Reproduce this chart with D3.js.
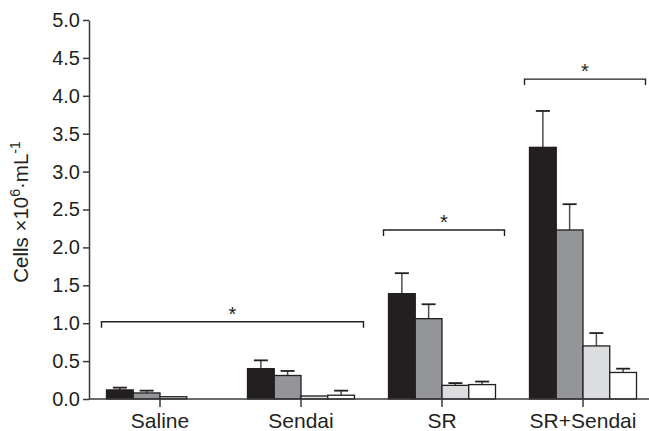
<!DOCTYPE html>
<html>
<head>
<meta charset="utf-8">
<script src="https://cdn.jsdelivr.net/npm/d3@7"></script>
<style>
  body { margin: 0; background: #fff; }
  svg text { font-family: "Liberation Sans", Arial, sans-serif; fill: #231f20; }
</style>
</head>
<body>
<svg id="chart" width="649" height="431"></svg>
<script>
// data
var groups = ["Saline", "Sendai", "SR", "SR+Sendai"];
var series = ["s1", "s2", "s3", "s4"];
var means = [
  [0.12, 0.08, 0.03, 0.00],
  [0.40, 0.31, 0.04, 0.05],
  [1.39, 1.06, 0.18, 0.19],
  [3.32, 2.23, 0.70, 0.35]
];
var upper = [
  [0.15, 0.11, null, null],
  [0.51, 0.37, null, 0.11],
  [1.66, 1.25, 0.21, 0.23],
  [3.80, 2.57, 0.87, 0.40]
];
var yTicks = [0, 0.5, 1, 1.5, 2, 2.5, 3, 3.5, 4, 4.5, 5];
var brackets = [
  {from: "Saline", to: "Sendai", value: 1.02},
  {from: "SR", to: "SR", value: 2.23},
  {from: "SR+Sendai", to: "SR+Sendai", value: 4.22}
];

var colors = ["#231f20", "#939598", "#dcddde", "#ffffff"];
var ink = "#231f20";

var svg = d3.select("#chart");
var x0 = d3.scaleBand().domain(groups).range([89.5, 653.5]);
var x1 = d3.scaleBand().domain(series).range([-53.5, 53.5]);
var y = d3.scaleLinear().domain([0, 5]).range([399, 20]);

//Bars
var rows = [];
groups.forEach(function(g, i){
  series.forEach(function(s, j){
    rows.push({g: g, s: s, v: means[i][j], e: upper[i][j], c: colors[j]});
  });
});

var bar = svg.append("g").selectAll("g").data(rows).enter().append("g")
  .attr("transform", function(d){ return "translate(" + (x0(d.g) + x0.bandwidth() / 2) + ",0)"; });

bar.filter(function(d){ return d.e != null; }).append("line")
  .attr("x1", function(d){ return x1(d.s) + x1.bandwidth() / 2; })
  .attr("x2", function(d){ return x1(d.s) + x1.bandwidth() / 2; })
  .attr("y1", function(d){ return y(d.v); })
  .attr("y2", function(d){ return y(d.e); })
  .attr("stroke", "#4d4d4f").attr("stroke-width", 1.5);

bar.filter(function(d){ return d.e != null; }).append("line")
  .attr("x1", function(d){ return x1(d.s) + x1.bandwidth() / 2 - 7; })
  .attr("x2", function(d){ return x1(d.s) + x1.bandwidth() / 2 + 7; })
  .attr("y1", function(d){ return y(d.e); })
  .attr("y2", function(d){ return y(d.e); })
  .attr("stroke", ink).attr("stroke-width", 1.8);

bar.filter(function(d){ return d.v > 0; }).append("rect")
  .attr("x", function(d){ return x1(d.s); })
  .attr("width", x1.bandwidth())
  .attr("y", function(d){ return y(d.v); })
  .attr("height", function(d){ return y(0) - y(d.v); })
  .attr("fill", function(d){ return d.c; })
  .attr("stroke", ink).attr("stroke-width", 1.3);

//Axes
var yAxis = svg.append("g").attr("transform", "translate(89,0)")
  .call(d3.axisLeft(y).tickValues(yTicks).tickFormat(d3.format(".1f")).tickSize(6).tickPadding(3).tickSizeOuter(0));
yAxis.selectAll("text").style("font-size", "20px");

var xAxis = svg.append("g").attr("transform", "translate(0,399)")
  .call(d3.axisBottom(x0).tickSize(8).tickPadding(6).tickSizeOuter(0));
xAxis.selectAll("text").style("font-size", "21px");
xAxis.select(".domain").attr("d", "M89,0H649");

svg.selectAll(".domain, .tick line").attr("stroke", "#3a3a3c").attr("stroke-width", 1.5);

//Axis title
var title = svg.append("text")
  .attr("transform", "translate(28,212) rotate(-90)")
  .attr("text-anchor", "middle")
  .style("font-size", "20.5px");
title.append("tspan").text("Cells \u00d710");
title.append("tspan").attr("dy", -8).style("font-size", "14px").text("6");
title.append("tspan").attr("dy", 8).text("\u00b7mL");
title.append("tspan").attr("dy", -8).style("font-size", "14px").text("-1");

//Significance brackets
brackets.forEach(function(b){
  var left = x0(b.from) + x0.bandwidth() / 2 + x1.range()[0] - 5;
  var right = x0(b.to) + x0.bandwidth() / 2 + x1.range()[1] + 9;
  var by = y(b.value);
  svg.append("path")
    .attr("d", "M" + left + "," + (by + 6) + "V" + by + "H" + right + "V" + (by + 6))
    .attr("fill", "none").attr("stroke", ink).attr("stroke-width", 1.4);
  svg.append("text")
    .attr("x", (left + right) / 2)
    .attr("y", by - 1)
    .attr("text-anchor", "middle")
    .style("font-size", "20px")
    .text("*");
});
</script>
</body>
</html>
